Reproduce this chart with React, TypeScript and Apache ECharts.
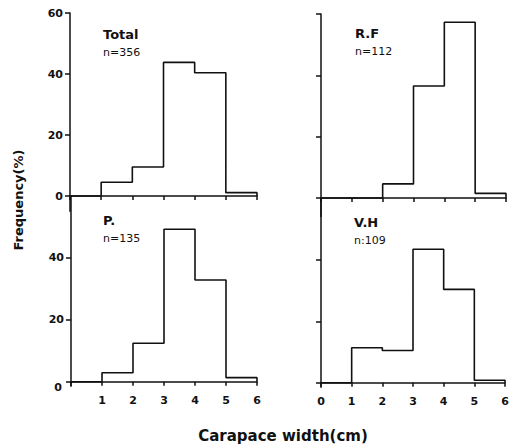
import React, { useEffect, useRef } from "react";
import * as echarts from "echarts";

const binEdges = [0, 1, 2, 3, 4, 5, 6];
const totalValues = [0, 4.5, 9.5, 43.8, 40.4, 1.1];
const rfValues = [0, 0, 4.6, 36.5, 57.3, 1.5];
const pValues = [0, 2.9, 12.4, 49.2, 32.8, 1.3];
const vhValues = [0, 11.4, 10.5, 43.5, 30.4, 0.8];
const panelNames = ["Total", "R.F", "P.", "V.H"];
const panelCounts = ["n=356", "n=112", "n=135", "n:109"];
const yTicksTop = [0, 20, 40, 60];
const yTicksBottom = [0, 20, 40];

const FONT = "DejaVu Sans";
const INK = "#111";

function outline(values: number[]) {
  const pts: number[][] = [];
  values.forEach((v, i) => {
    pts.push([binEdges[i], v]);
    pts.push([binEdges[i + 1], v]);
  });
  pts.push([binEdges[binEdges.length - 1], 0]);
  return pts;
}

const layouts = [
  { left: 70, zero: 196, top: 13, width: 187, min: -5 },
  { left: 321, zero: 198, top: 14, width: 185, min: -6 },
  { left: 71, zero: 381.7, top: 195.7, width: 186, min: -1.5 },
  { left: 321, zero: 382.7, top: 198.6, width: 184, min: -1.5 },
];

export default function App() {
  const ref = useRef<HTMLDivElement>(null);
  useEffect(() => {
    if (!ref.current) return;
    const chart = echarts.init(ref.current, undefined, { renderer: "svg" });
    const allValues = [totalValues, rfValues, pValues, vhValues];
    const grids = layouts.map((l) => {
      const ppu = (l.zero - l.top) / 60;
      const bottom = l.zero - l.min * ppu;
      return { left: l.left, top: l.top, width: l.width, height: bottom - l.top };
    });
    const labelFont = {
      color: INK,
      fontFamily: FONT,
      fontWeight: "bold",
      fontSize: 11,
    };
    const xAxes = layouts.map((l, i) => ({
      type: "value",
      gridIndex: i,
      min: 0,
      max: 6,
      interval: 1,
      splitLine: { show: false },
      axisLine: { onZero: true, lineStyle: { color: INK, width: 1.5 } },
      axisTick: { show: true, length: 4, lineStyle: { color: INK, width: 1.5 } },
      axisLabel: {
        show: i >= 2,
        ...labelFont,
        margin: 9,
        formatter: (v: number) => (i === 2 && v === 0 ? "" : String(v)),
      },
    }));
    const yAxes = layouts.map((l, i) => ({
      type: "value",
      gridIndex: i,
      min: l.min,
      max: 60,
      splitLine: { show: false },
      axisLine: { onZero: true, lineStyle: { color: INK, width: 1.5 } },
      axisTick: {
        show: true,
        length: 5,
        customValues: i < 2 ? yTicksTop : yTicksBottom,
        lineStyle: { color: INK, width: 1.5 },
      },
      axisLabel: {
        show: i === 0 || i === 2,
        customValues: i === 0 ? yTicksTop : yTicksBottom,
        ...labelFont,
        margin: 7,
        formatter: (v: number) =>
          i === 2 && v === 0 ? "{z|0}" : String(v),
        rich: {
          z: { ...labelFont, padding: [11, 2, 0, 0] },
        },
      },
    }));
    const series = allValues.map((vals, i) => ({
      type: "line",
      xAxisIndex: i,
      yAxisIndex: i,
      data: outline(vals),
      showSymbol: false,
      symbol: "none",
      lineStyle: { color: INK, width: 1.6 },
      silent: true,
    }));
    const labelPos = [
      { x: 103, y: 28 },
      { x: 355, y: 27 },
      { x: 103, y: 214 },
      { x: 354, y: 216 },
    ];
    const graphics: any[] = [];
    labelPos.forEach((p, i) => {
      graphics.push({
        type: "text",
        x: p.x,
        y: p.y,
        style: {
          text: panelNames[i],
          font: `bold 13px "${FONT}"`,
          fill: INK,
        },
      });
      graphics.push({
        type: "text",
        x: p.x,
        y: p.y + 19,
        style: {
          text: panelCounts[i],
          font: `11px "${FONT}"`,
          fill: INK,
        },
      });
    });
    graphics.push({
      type: "text",
      x: 18,
      y: 200,
      rotation: Math.PI / 2,
      style: {
        text: "Frequency(%)",
        font: `bold 13px "${FONT}"`,
        fill: INK,
        align: "center",
        verticalAlign: "middle",
      },
    });
    graphics.push({
      type: "text",
      x: 283,
      y: 436,
      style: {
        text: "Carapace width(cm)",
        font: `bold 15px "${FONT}"`,
        fill: INK,
        align: "center",
        verticalAlign: "middle",
      },
    });
    chart.setOption({
      animation: false,
      backgroundColor: "#fff",
      grid: grids,
      xAxis: xAxes,
      yAxis: yAxes,
      series,
      graphic: graphics,
    });
    return () => chart.dispose();
  }, []);
  return (
    <div
      ref={ref}
      style={{ position: "fixed", left: 0, top: 0, width: 514, height: 448 }}
    />
  );
}
